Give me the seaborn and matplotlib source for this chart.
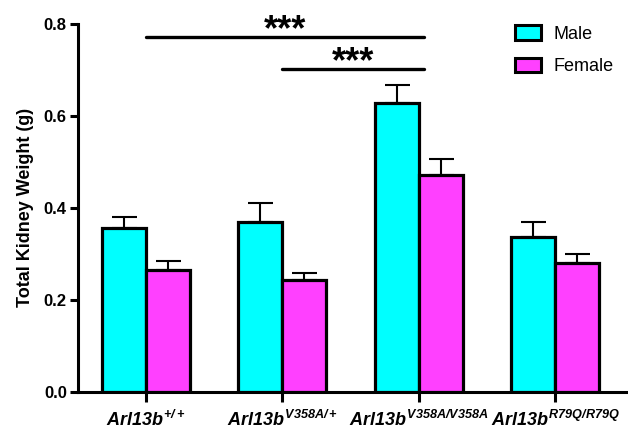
import matplotlib
matplotlib.use('Agg')
import matplotlib.pyplot as plt
import seaborn as sns
import pandas as pd
import numpy as np

# ---- data ----
genotypes = [r'$Arl13b^{+/+}$', r'$Arl13b^{V358A/+}$',
             r'$Arl13b^{V358A/V358A}$', r'$Arl13b^{R79Q/R79Q}$']
sexes = ['Male', 'Female']
male_mean = [0.356, 0.369, 0.628, 0.336]
male_sem = [0.025, 0.042, 0.040, 0.034]
female_mean = [0.265, 0.243, 0.472, 0.281]
female_sem = [0.020, 0.015, 0.034, 0.019]
comparisons = [(0, 2), (1, 2)]
sig_heights = [0.772, 0.703]
sig_labels = ['***', '***']
yticks = [0.0, 0.2, 0.4, 0.6, 0.8]

sns.set_theme(style='ticks')
plt.rcParams['font.family'] = ['Liberation Sans', 'DejaVu Sans']
plt.rcParams['mathtext.fontset'] = 'custom'
plt.rcParams['mathtext.rm'] = 'Liberation Sans:bold:italic'
plt.rcParams['mathtext.it'] = 'Liberation Sans:bold:italic'
plt.rcParams['mathtext.bf'] = 'Liberation Sans:bold:italic'
plt.rcParams['axes.linewidth'] = 2.2
for k in ['text.color', 'axes.labelcolor', 'xtick.color', 'ytick.color',
          'axes.edgecolor']:
    plt.rcParams[k] = 'black'

df = pd.DataFrame({
    'genotype': genotypes * 2,
    'sex': ['Male'] * 4 + ['Female'] * 4,
    'weight': male_mean + female_mean,
})

fig, ax = plt.subplots(figsize=(6.28, 4.32), dpi=100)
fig.subplots_adjust(left=0.124, right=0.997, bottom=0.0933, top=0.9444)

sns.barplot(data=df, x='genotype', y='weight', hue='sex', hue_order=sexes,
            palette={'Male': '#00FFFF', 'Female': '#FF40FF'}, saturation=1,
            width=0.645, edgecolor='black', linewidth=2.3,
            errorbar=None, ax=ax, zorder=3)

for container, sems in zip(ax.containers, [male_sem, female_sem]):
    xs = [p.get_x() + p.get_width() / 2 for p in container]
    hs = [p.get_height() for p in container]
    ax.errorbar(xs, hs, yerr=[np.zeros(len(sems)), sems], fmt='none',
                ecolor='black', elinewidth=1.5, capsize=9, capthick=1.5,
                zorder=2)

for (a, b), h, s in zip(comparisons, sig_heights, sig_labels):
    ax.plot([a, b + 0.035], [h, h], color='black', lw=2.4, clip_on=False,
            solid_capstyle='round', zorder=4)
    ax.annotate(s, xy=((a + b + 0.035) / 2, h), xytext=(0, -2.5),
                textcoords='offset points', ha='center', va='baseline',
                fontsize=26, fontweight='bold', color='black',
                annotation_clip=False)

ax.set_xlim(-0.5, 3.52)
ax.set_ylim(0, 0.8)
ax.set_yticks(yticks)
ax.set_yticklabels([f'{v:.1f}' for v in yticks], fontweight='bold')
ax.tick_params(axis='y', length=6, width=2.2, labelsize=12, pad=2)
ax.tick_params(axis='x', length=7, width=2.2, labelsize=13, pad=6)
ax.set_xlabel('')
ax.set_ylabel('Total Kidney Weight (g)', fontsize=13, fontweight='bold',
              labelpad=7)
sns.despine(ax=ax)

leg = ax.legend(title=None, frameon=False, loc='upper left',
                bbox_to_anchor=(0.797, 0.997), borderaxespad=0, borderpad=0,
                handlelength=1.45, handleheight=0.85, handletextpad=0.7,
                labelspacing=0.85, fontsize=13)
for hnd in leg.legend_handles:
    hnd.set_edgecolor('black')
    hnd.set_linewidth(2.2)

fig.savefig('out.png', dpi=100)
